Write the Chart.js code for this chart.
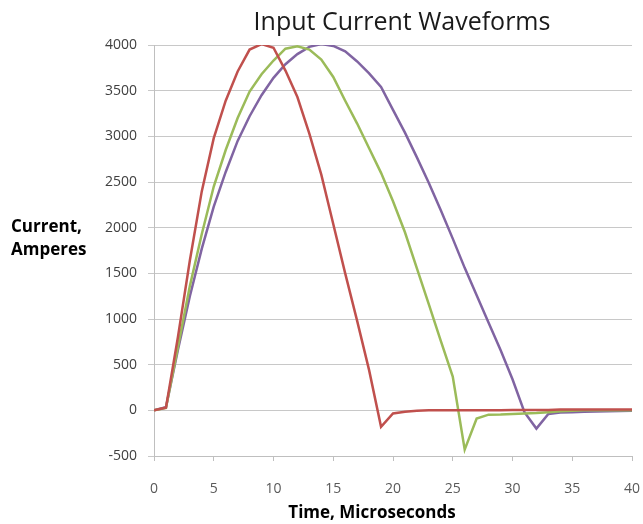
<!DOCTYPE html>
<html>
<head>
<meta charset="utf-8">
<title>Input Current Waveforms</title>
<script src="https://cdn.jsdelivr.net/npm/chart.js@4.4.1/dist/chart.umd.min.js"></script>
<style>
	body { margin: 0; background: #ffffff; }
	#chart_content { width: 643px; height: 524px; }
</style>
</head>
<body>
<div id="chart_content"><canvas id="waveform_canvas" width="643" height="524"></canvas></div>
<script>
// time in microseconds, one sample per us
var time = [0, 1, 2, 3, 4, 5, 6, 7, 8, 9, 10, 11, 12, 13, 14, 15, 16, 17, 18, 19, 20,
	21, 22, 23, 24, 25, 26, 27, 28, 29, 30, 31, 32, 33, 34, 35, 36, 37, 38, 39, 40];

// current in amperes
var redCurrent = [0, 30, 800, 1640, 2400, 2980, 3390, 3710, 3950, 4010, 3970,
	3720, 3430, 3030, 2580, 2040, 1500, 980, 440, -180, -35,
	-15, -5, 0, 0, 0, 0, 0, 0, 0, 5,
	5, 5, 5, 8, 10, 10, 10, 10, 10, 10];
var greenCurrent = [0, 25, 690, 1360, 1930, 2450, 2850, 3200, 3490, 3680, 3830,
	3960, 3985, 3950, 3840, 3650, 3390, 3140, 2870, 2600, 2290,
	1950, 1555, 1160, 760, 370, -430, -90, -47, -45, -40,
	-35, -30, -20, -10, -5, 0, 0, 0, 0, 0];
var purpleCurrent = [0, 35, 660, 1250, 1770, 2230, 2610, 2950, 3220, 3450, 3640,
	3790, 3900, 3980, 4010, 3990, 3930, 3820, 3690, 3540, 3290,
	3040, 2770, 2490, 2190, 1880, 1560, 1260, 960, 660, 340,
	-20, -200, -40, -25, -20, -15, -12, -10, -8, -5];

var yTicks = [-500, 0, 500, 1000, 1500, 2000, 2500, 3000, 3500, 4000];
var xTicks = [0, 5, 10, 15, 20, 25, 30, 35, 40];

var chartTitle = "Input Current Waveforms";
var yLabel = ["Current,", "Amperes"];
var xLabel = "Time, Microseconds";

function toPoints(values){
	var pts = [];
	for (var i in time) {
		pts.push({x: time[i], y: values[i]});
	}
	return pts;
}

function lineSet(values, color){
	return {
		data: toPoints(values),
		borderColor: color,
		backgroundColor: color,
		borderWidth: 2.5,
		pointRadius: 0,
		tension: 0,
		fill: false
	};
}

// title and axis captions sit where excel put them, not where chart.js would
var captions = {
	id: 'captions',
	afterDraw: function(chart){
		var ctx = chart.ctx;
		ctx.save();
		ctx.fillStyle = '#1a1a1a';
		ctx.textAlign = 'center';
		ctx.textBaseline = 'alphabetic';
		ctx.font = '25px "Open Sans"';
		ctx.fillText(chartTitle, 402, 30);

		ctx.fillStyle = '#000000';
		ctx.textAlign = 'left';
		ctx.font = 'bold 17px "Open Sans"';
		ctx.fillText(yLabel[0], 11, 232);
		ctx.fillText(yLabel[1], 11, 255);

		ctx.textAlign = 'center';
		ctx.font = 'bold 17px "Open Sans"';
		ctx.fillText(xLabel, 372, 518);
		ctx.restore();
	}
};

var ctx = document.getElementById('waveform_canvas').getContext('2d');
var LineGraph = new Chart(ctx, {
	type: 'line',
	data: {
		datasets: [
			lineSet(redCurrent, '#c0504d'),
			lineSet(greenCurrent, '#9bbb59'),
			lineSet(purpleCurrent, '#8064a2')
		]
	},
	options: {
		responsive: false,
		animation: false,
		layout: { padding: { left: 100, right: 11, top: 45, bottom: 0 } },
		plugins: {
			legend: { display: false },
			tooltip: { enabled: false }
		},
		scales: {
			x: {
				type: 'linear',
				min: 0,
				max: 40,
				afterBuildTicks: function(scale){
					scale.ticks = xTicks.map(function(v){ return {value: v}; });
				},
				afterFit: function(scale){
					scale.height = 68;
					// tick padding would otherwise eat into the plot width
					scale.paddingLeft = 0;
					scale.paddingRight = 0;
				},
				grid: { drawOnChartArea: false, tickLength: 5, color: '#bfbfbf' },
				border: { color: '#bfbfbf' },
				ticks: {
					padding: 20,
					color: '#595959',
					font: { family: 'Open Sans', size: 14 },
					callback: function(v){ return String(v); }
				}
			},
			y: {
				type: 'linear',
				min: -500,
				max: 4000,
				afterBuildTicks: function(scale){
					scale.ticks = yTicks.map(function(v){ return {value: v}; });
				},
				afterFit: function(scale){ scale.width = 54; },
				grid: { color: '#c8c8c8', tickLength: 6 },
				border: { color: '#bfbfbf' },
				ticks: {
					padding: 11,
					color: '#404040',
					font: { family: 'Open Sans', size: 14 },
					callback: function(v){ return String(v); }
				}
			}
		}
	},
	plugins: [captions]
});
</script>
</body>
</html>
